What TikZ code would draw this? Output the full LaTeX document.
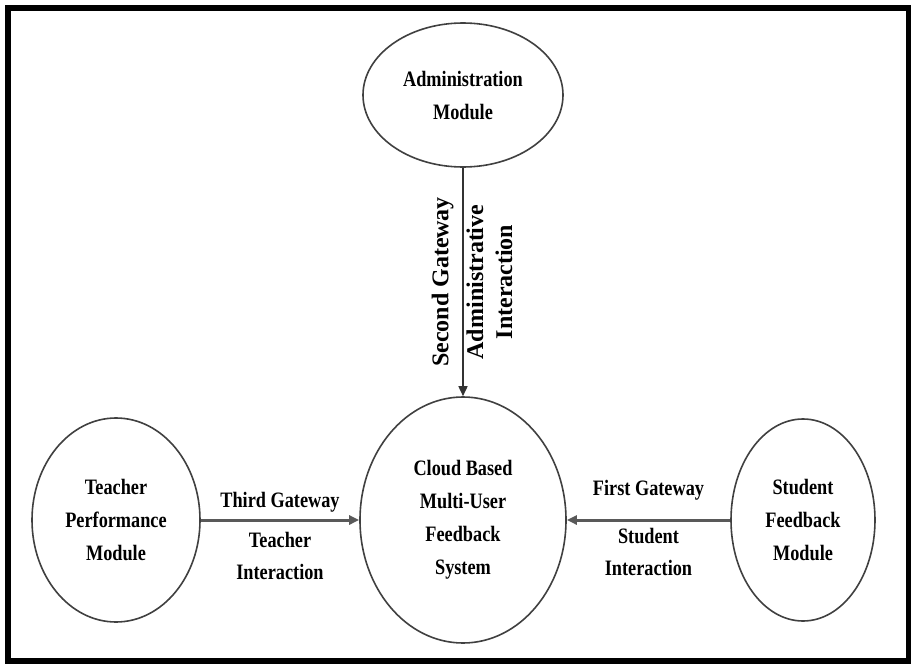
\documentclass[tikz,border=0pt]{standalone}
\usepackage{fontspec}
\setmainfont{Liberation Serif}
\newfontfamily\narrowfont[FakeStretch=0.83]{Liberation Serif}
\usetikzlibrary{shapes.geometric,arrows.meta}

\begin{document}
\begin{tikzpicture}
  [x=0.5pt, y=-0.5pt,
   >={Triangle[length=5pt, width=4.5pt]},
   module/.style={ellipse, draw=black!75, line width=0.8pt, inner sep=0pt,
                  align=center,
                  font=\narrowfont\bfseries\fontsize{11}{16.5}\selectfont},
   flow/.style={->, draw=black!65, line width=1.5pt},
   lbl/.style={align=center,
               font=\narrowfont\bfseries\fontsize{11}{16}\selectfont},
   vlbl/.style={align=center, rotate=90,
                font=\bfseries\fontsize{12}{14.5}\selectfont}
  ]
  \useasboundingbox (0,0) rectangle (911,664);
  \fill[white] (0,0) rectangle (911,664);
  % outer frame
  \draw[line width=3pt] (8,8) rectangle (908.5,661);

  \node[module, minimum width=100pt, minimum height=72pt]  (A) at (463,95)
        {Administration\\Module};
  \node[module, minimum width=103pt, minimum height=123pt] (C) at (463,520)
        {Cloud Based\\Multi-User\\Feedback\\System};
  \node[module, minimum width=84pt, minimum height=102pt]  (T) at (116,520)
        {Teacher\\Performance\\Module};
  \node[module, minimum width=72pt, minimum height=101pt]  (S) at (803,520)
        {Student\\Feedback\\Module};

  \draw[flow, draw=black!80, line width=0.8pt] (A) -- (C)
        node[midway, vlbl, anchor=south, yshift=1pt] {Second Gateway}
        node[midway, vlbl, anchor=north, yshift=2pt] {Administrative\\Interaction};

  \draw[flow] (T) -- (C)
        node[midway, above, lbl] {Third Gateway}
        node[midway, below=2pt, lbl] {Teacher\\Interaction};

  \draw[flow] (S) -- (C)
        node[midway, above=6pt, lbl] {First Gateway}
        node[midway, below=0pt, lbl] {Student\\Interaction};
\end{tikzpicture}
\end{document}
